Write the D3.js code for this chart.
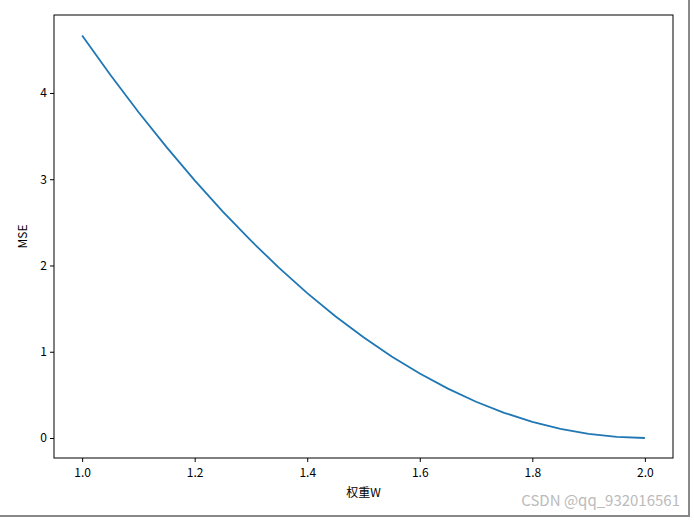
<!DOCTYPE html>
<html><head><meta charset="utf-8">
<script src="https://cdn.jsdelivr.net/npm/d3@7"></script>
<style>body{margin:0;background:#fff}</style>
</head><body>
<script>
const wValues = [1.00,1.05,1.10,1.15,1.20,1.25,1.30,1.35,1.40,1.45,1.50,1.55,1.60,1.65,1.70,1.75,1.80,1.85,1.90,1.95,2.00];
const mseValues = [4.667,4.212,3.780,3.372,2.987,2.625,2.287,1.972,1.680,1.412,1.167,0.945,0.747,0.572,0.420,0.292,0.187,0.105,0.047,0.012,0.000];
const xTicks = [1.0,1.2,1.4,1.6,1.8,2.0];
const yTicks = [0,1,2,3,4];

const width = 694, height = 520;
const box = { left: 54, right: 673, top: 15, bottom: 458 };
const font = "'Noto Sans CJK SC', sans-serif";

const svg = d3.select('body').append('svg').attr('width', width).attr('height', height);

const x = d3.scaleLinear().domain([0.95, 2.05]).range([box.left, box.right]);
const y = d3.scaleLinear().domain([-0.232, 4.904]).range([box.bottom, box.top]);

const gx = svg.append('g').attr('transform', `translate(0,${box.bottom})`)
    .call(d3.axisBottom(x).tickValues(xTicks).tickFormat(d3.format('.1f')).tickSizeOuter(0).tickSize(4));
const gy = svg.append('g').attr('transform', `translate(${box.left},0)`)
    .call(d3.axisLeft(y).tickValues(yTicks).tickFormat(d3.format('d')).tickSizeOuter(0).tickSize(4));
[gx, gy].forEach(g => {
    g.select('.domain').remove();
    g.selectAll('text').style('font-family', font).style('font-size', '12px').attr('fill', '#000');
});
gx.selectAll('text').attr('dy', '1em');

svg.append('rect').attr('x', box.left).attr('y', box.top)
    .attr('width', box.right - box.left).attr('height', box.bottom - box.top)
    .attr('fill', 'none').attr('stroke', '#000').attr('stroke-width', 1);

const line = d3.line().x((d, i) => x(wValues[i])).y(d => y(d));
svg.append('path').datum(mseValues).attr('d', line)
    .attr('fill', 'none').attr('stroke', '#1f77b4').attr('stroke-width', 1.8);

svg.append('text').attr('x', (box.left + box.right) / 2).attr('y', 497)
    .attr('text-anchor', 'middle').style('font-family', font).style('font-size', '12px').text('权重W');
svg.append('text').attr('transform', `translate(27,${(box.top + box.bottom) / 2}) rotate(-90)`)
    .attr('text-anchor', 'middle').style('font-family', font).style('font-size', '12px').text('MSE');

svg.append('text').attr('x', 680).attr('y', 506).attr('text-anchor', 'end')
    .style('font-family', font).style('font-size', '15px').attr('fill', '#bbb').text('CSDN @qq_932016561');

// screenshot frame edges
svg.append('line').attr('x1', 0).attr('x2', 690).attr('y1', 516).attr('y2', 516).attr('stroke', '#888').attr('stroke-width', 2);
svg.append('line').attr('x1', 689).attr('x2', 689).attr('y1', 0).attr('y2', 516).attr('stroke', '#888').attr('stroke-width', 2);
</script>
</body></html>
